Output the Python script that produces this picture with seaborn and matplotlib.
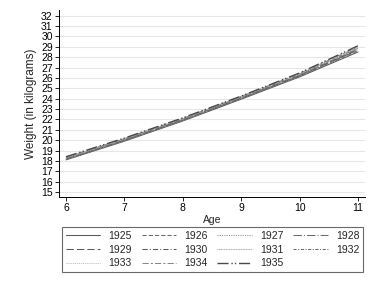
import matplotlib
matplotlib.use("Agg")
import matplotlib.pyplot as plt
import seaborn as sns
import pandas as pd

ages = [6, 7, 8, 9, 10, 11]
w1925 = [18.10, 19.90, 21.85, 23.95, 26.10, 28.50]
w1926 = [18.15, 19.95, 21.90, 24.00, 26.15, 28.60]
w1927 = [18.15, 19.98, 21.92, 24.03, 26.20, 28.65]
w1928 = [18.20, 20.00, 21.95, 24.05, 26.22, 28.70]
w1929 = [18.20, 20.02, 21.98, 24.08, 26.25, 28.75]
w1930 = [18.25, 20.05, 22.00, 24.10, 26.28, 28.80]
w1931 = [18.25, 20.08, 22.03, 24.13, 26.32, 28.85]
w1932 = [18.30, 20.10, 22.05, 24.15, 26.35, 28.90]
w1933 = [18.30, 20.12, 22.08, 24.20, 26.40, 28.95]
w1934 = [18.35, 20.15, 22.10, 24.22, 26.42, 29.00]
w1935 = [18.40, 20.20, 22.15, 24.25, 26.48, 29.10]
cohorts = ["1925", "1926", "1927", "1928", "1929", "1930", "1931", "1932", "1933", "1934", "1935"]
series = [w1925, w1926, w1927, w1928, w1929, w1930, w1931, w1932, w1933, w1934, w1935]
yticks = list(range(15, 33))
xticks = [6, 7, 8, 9, 10, 11]

rows = []
for c, s in zip(cohorts, series):
    for a, v in zip(ages, s):
        rows.append({"Age": a, "Weight": v, "Cohort": c})
df = pd.DataFrame(rows)

sns.set_style("white")
plt.rcParams["font.family"] = ["Liberation Sans", "DejaVu Sans"]

dashes = {
    "1925": "",
    "1926": (4, 2),
    "1927": (1, 1.2),
    "1928": (8, 2, 1, 2),
    "1929": (7, 3),
    "1930": (5, 2, 1, 2),
    "1931": (1, 0.6),
    "1932": (3, 1.5, 1, 1.5),
    "1933": (1, 1),
    "1934": (6, 2, 2, 2),
    "1935": (8, 2, 1, 1.5, 1, 2),
}
palette = {
    "1925": "#5a5a5a", "1926": "#6a6a6a", "1927": "#8a8a8a", "1928": "#6a6a6a",
    "1929": "#5a5a5a", "1930": "#5a5a5a", "1931": "#aaaaaa", "1932": "#6a6a6a",
    "1933": "#bbbbbb", "1934": "#8a8a8a", "1935": "#4a4a4a",
}
widths = {c: 0.75 for c in cohorts}
widths["1935"] = 1.0

fig = plt.figure(figsize=(3.92, 2.86), dpi=100)
ax = fig.add_axes([59/392, 1-197/286, (365-59)/392, (197-10)/286])

sns.lineplot(data=df, x="Age", y="Weight", hue="Cohort", style="Cohort",
             dashes=dashes, palette=palette, ax=ax, linewidth=0.75, legend=True)
for line, c in zip(ax.get_lines(), cohorts):
    line.set_linewidth(widths[c])

ax.set_xlim(5.88, 11.12)
ax.set_ylim(14.52, 32.55)
ax.set_yticks(yticks)
ax.set_xticks(xticks)
ax.tick_params(axis="both", labelsize=7.5, length=3, width=0.6, direction="out",
               colors="black", pad=1.5, left=True, bottom=True)
ax.grid(axis="y", color="#e6e6e6", linewidth=0.8)
ax.set_axisbelow(True)
for s in ["top", "right"]:
    ax.spines[s].set_visible(False)
for s in ["left", "bottom"]:
    ax.spines[s].set_color("black")
    ax.spines[s].set_linewidth(0.7)
ax.set_xlabel("Age", fontsize=7.5, labelpad=1)
ax.set_ylabel("Weight (in kilograms)", fontsize=8.5, labelpad=3)

handles, labels = ax.get_legend_handles_labels()
ax.get_legend().remove()
hmap = dict(zip(labels, handles))
ncol = 4
nrow = 3
order = []
for col in range(ncol):
    for r in range(nrow):
        i = r * ncol + col
        if i < len(cohorts):
            order.append(cohorts[i])
for l in order:
    hmap[l].set_linewidth(widths[l])
leg = fig.legend([hmap[l] for l in order], order, ncol=ncol, loc="lower left",
                 bbox_to_anchor=(62/392, 1-272/286, 301/392, 44/286), mode="expand",
                 fontsize=7.5, frameon=True, fancybox=False, edgecolor="#444444",
                 handlelength=3.3, handletextpad=0.8, borderaxespad=0, labelspacing=0.35,
                 borderpad=0.35, columnspacing=1.0)
leg.get_frame().set_linewidth(0.8)

fig.savefig("out.png", dpi=100)
